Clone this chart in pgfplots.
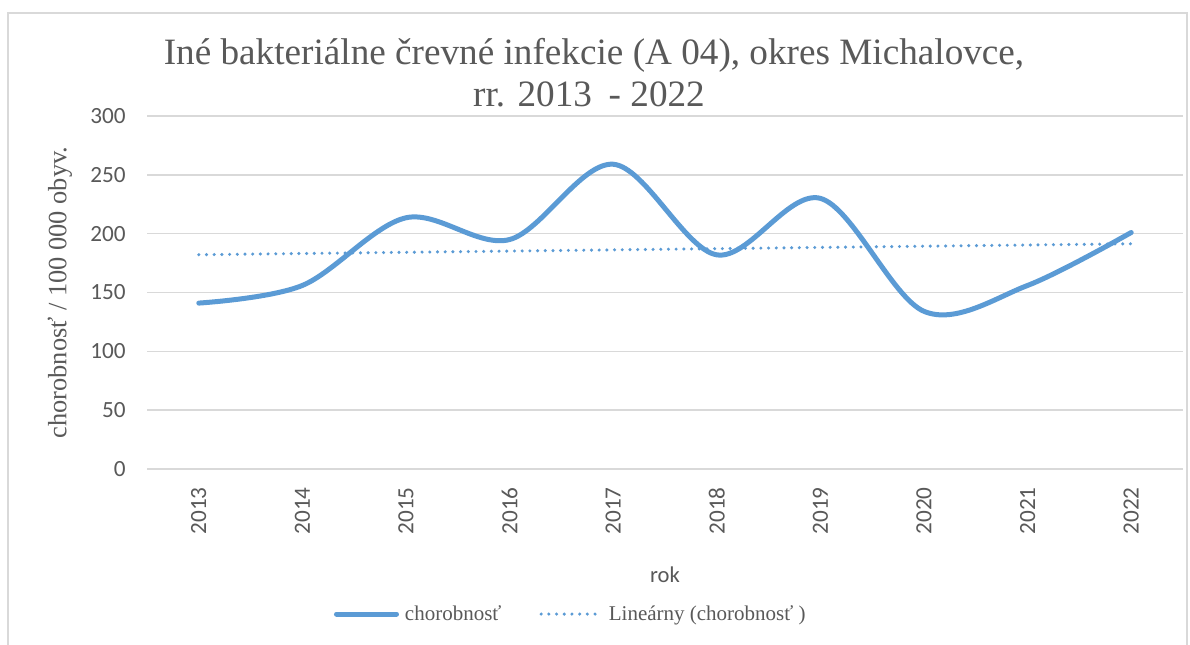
\documentclass[border=0pt]{standalone}
\usepackage{pgfplots}
\pgfplotsset{compat=1.18}
\usepackage{fontspec}
\setmainfont{Liberation Serif}
\newfontfamily\carlito{Carlito}
\definecolor{lineblue}{HTML}{5B9BD5}
\definecolor{gridgray}{HTML}{D9D9D9}
\definecolor{txtgray}{HTML}{595959}
\definecolor{framegray}{HTML}{D9D9D9}
\begin{document}
\begin{tikzpicture}
\useasboundingbox (0pt,0pt) rectangle (595pt,322pt);
\fill[white] (0pt,0pt) rectangle (595pt,322pt);
\draw[framegray, line width=1pt] (4pt,-5pt) rectangle (593.5pt,315.5pt);
\node[anchor=base, text=txtgray, font=\fontsize{18.6}{21}\selectfont] at (297pt,289.5pt) {Iné bakteriálne črevné infekcie (A 04), okres Michalovce,};
\node[anchor=base, text=txtgray, font=\fontsize{18.6}{21}\selectfont] at (294.5pt,268.5pt) {rr. 2013\hspace{0.45em}- 2022};
\begin{axis}[
  at={(73.5pt,87.5pt)}, anchor=south west,
  scale only axis, width=518pt, height=176.5pt,
  xmin=2012.5, xmax=2022.5, ymin=0, ymax=300,
  xtick={2013,2014,2015,2016,2017,2018,2019,2020,2021,2022},
  xticklabels={2013,2014,2015,2016,2017,2018,2019,2020,2021,2022},
  ytick={0,50,100,150,200,250,300},
  axis lines=left, axis line style={draw=none},
  major tick length=0pt,
  ymajorgrids, grid style={gridgray, line width=0.75pt},
  /pgf/number format/assume math mode=true,
  ticklabel style={font=\fontsize{11.6}{13}\selectfont\carlito, text=txtgray},
  xticklabel style={rotate=90, anchor=east, inner sep=0pt},
  yticklabel style={anchor=east, inner sep=0pt},
  xticklabel shift=9pt, yticklabel shift=10.5pt,
  xlabel={rok},
  xlabel style={at={(axis description cs:0.5,-0.300)}, anchor=center, font=\fontsize{11.3}{13}\selectfont\carlito, text=txtgray},
  ylabel={chorobnosť / 100 000 obyv.},
  ylabel style={at={(axis description cs:-0.084,0.5)}, anchor=center, font=\fontsize{13.2}{15}\selectfont, text=txtgray},
  legend columns=2,
  legend style={at={(axis description cs:0.411,-0.411)}, anchor=center, draw=none, fill=none,
    font=\fontsize{10.5}{12}\selectfont, text=txtgray,
    /tikz/every even column/.append style={column sep=16pt},
    nodes={inner sep=3pt}},
  legend image code/.code={\draw[#1] (0pt,0pt) -- (30pt,0pt);},
  clip=false,
]
\addplot[lineblue, line width=2.5pt, line cap=round, smooth, tension=0.55] coordinates {
  (2013,141) (2014,156) (2015,213.5) (2016,195) (2017,259)
  (2018,182) (2019,230) (2020,134) (2021,156) (2022,201)
};
\addlegendentry{chorobnosť}
\addplot[lineblue, line width=1.7pt, line cap=round, dash pattern=on 0pt off 3.85pt] coordinates {
  (2013,182.1) (2022,191.4)
};
\addlegendentry{Lineárny (chorobnosť )}
\end{axis}
\end{tikzpicture}
\end{document}
